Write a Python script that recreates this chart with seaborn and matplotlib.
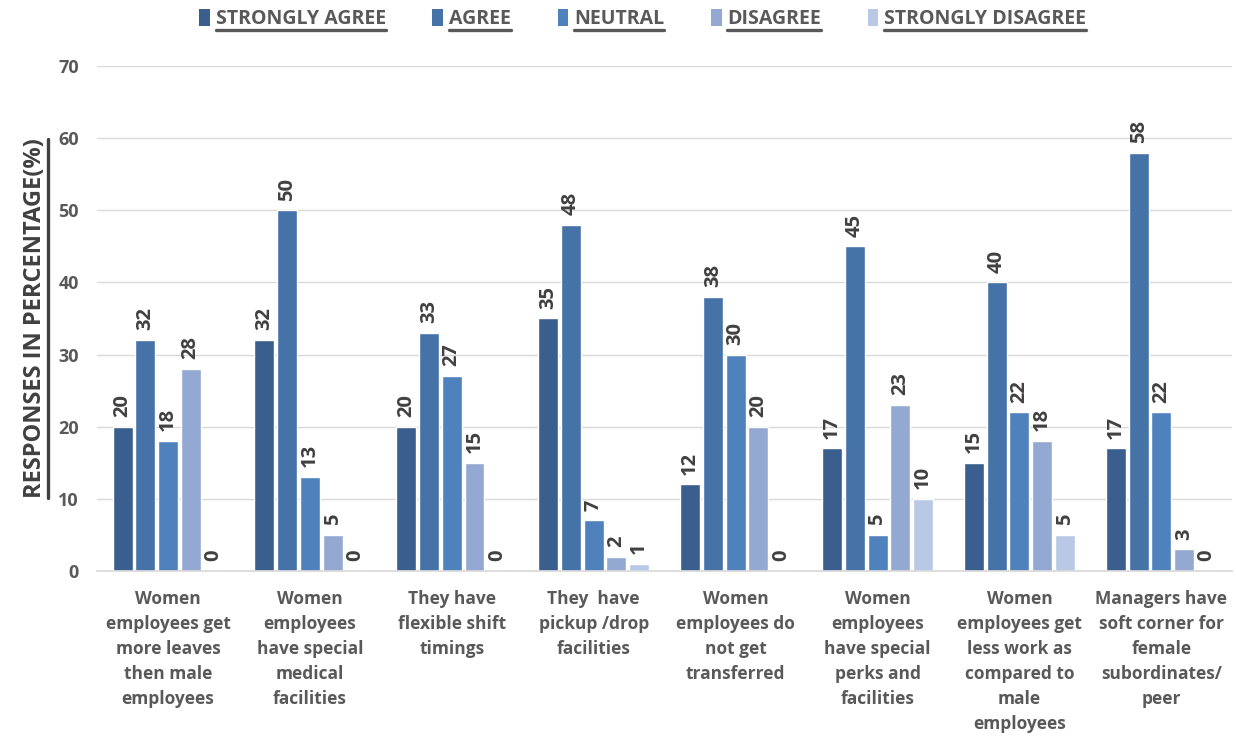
import matplotlib
matplotlib.use("Agg")
import matplotlib.pyplot as plt
from matplotlib.lines import Line2D
from matplotlib.patches import Patch
import seaborn as sns
import pandas as pd

categories = [
    "Women\nemployees get\nmore leaves\nthen male\nemployees",
    "Women\nemployees\nhave special\nmedical\nfacilities",
    "They have\nflexible shift\ntimings",
    "They  have\npickup /drop\nfacilities",
    "Women\nemployees do\nnot get\ntransferred",
    "Women\nemployees\nhave special\nperks and\nfacilities",
    "Women\nemployees get\nless work as\ncompared to\nmale\nemployees",
    "Managers have\nsoft corner for\nfemale\nsubordinates/\npeer",
]
responses = ["STRONGLY AGREE", "AGREE", "NEUTRAL", "DISAGREE", "STRONGLY DISAGREE"]
strongly_agree = [20, 32, 20, 35, 12, 17, 15, 17]
agree = [32, 50, 33, 48, 38, 45, 40, 58]
neutral = [18, 13, 27, 7, 30, 5, 22, 22]
disagree = [28, 5, 15, 2, 20, 23, 18, 3]
strongly_disagree = [0, 0, 0, 1, 0, 10, 5, 0]
yticks = [0, 10, 20, 30, 40, 50, 60, 70]

colors = ["#3A5F8F", "#4572A7", "#4F81BD", "#94A9D1", "#B9C8E4"]

series = [strongly_agree, agree, neutral, disagree, strongly_disagree]
rows = []
for resp, vals in zip(responses, series):
    for cat, v in zip(categories, vals):
        rows.append({"category": cat, "response": resp, "value": v})
df = pd.DataFrame(rows)

sns.set_theme(style="white")
FONT = ["Open Sans", "DejaVu Sans"]
plt.rcParams["font.family"] = FONT

fig = plt.figure(figsize=(12.36, 7.45), dpi=100)
ax = fig.add_axes([0.0785, 0.2336, 0.9185, 0.6778])

sns.barplot(data=df, x="category", y="value", hue="response",
            hue_order=responses, order=categories, palette=colors,
            width=0.8, gap=0.12, ax=ax, legend=False, saturation=1)

ax.set_ylim(0, 70)
ax.set_xlim(-0.5, len(categories) - 0.5)
ax.set_yticks(yticks)
ax.yaxis.grid(True, color="#D9D9D9", linewidth=1)
ax.set_axisbelow(True)
for s in ["top", "right", "left"]:
    ax.spines[s].set_visible(False)
ax.spines["bottom"].set_color("#D9D9D9")
ax.tick_params(axis="both", length=0)
ax.tick_params(axis="y", pad=13)
ax.set_xlabel("")
plt.setp(ax.get_yticklabels(), fontsize=13, fontweight="bold", color="#595959")
ax.set_xticks(range(len(categories)))
ax.set_xticklabels(categories, fontsize=12.5, fontweight="bold", color="#595959",
                   linespacing=1.5, va="top")
ax.tick_params(axis="x", pad=14)

for cont in ax.containers:
    ax.bar_label(cont, fmt="%d", rotation=90, padding=7, fontsize=14.5,
                 fontweight="bold", color="#404040")

ylab = ax.set_ylabel("RESPONSES IN PERCENTAGE(%)", fontsize=17, fontweight="bold",
                     color="#404040", labelpad=8)

handles = [Patch(facecolor=c, edgecolor="none") for c in colors]
leg = fig.legend(handles, responses, loc="upper center", ncol=5,
                 bbox_to_anchor=(0.52, 1.012), frameon=False,
                 prop={"size": 14, "weight": "bold", "family": FONT},
                 handlelength=0.55, handleheight=1.0, handletextpad=0.3,
                 columnspacing=2.4)
for t in leg.get_texts():
    t.set_color("#595959")

# underline legend entries and the axis title
fig.canvas.draw()
r = fig.canvas.get_renderer()
W, H = fig.bbox.width, fig.bbox.height
for t in leg.get_texts():
    bb = t.get_window_extent(r)
    y = (bb.y0 - 1) / H
    fig.add_artist(Line2D([bb.x0 / W, bb.x1 / W], [y, y], color="#595959",
                          linewidth=2.4, transform=fig.transFigure))
bb = ylab.get_window_extent(r)
x = (bb.x1 + 1) / W
fig.add_artist(Line2D([x, x], [bb.y0 / H, bb.y1 / H], color="#404040",
                      linewidth=2.4, transform=fig.transFigure))

fig.savefig("out.png", dpi=100)
